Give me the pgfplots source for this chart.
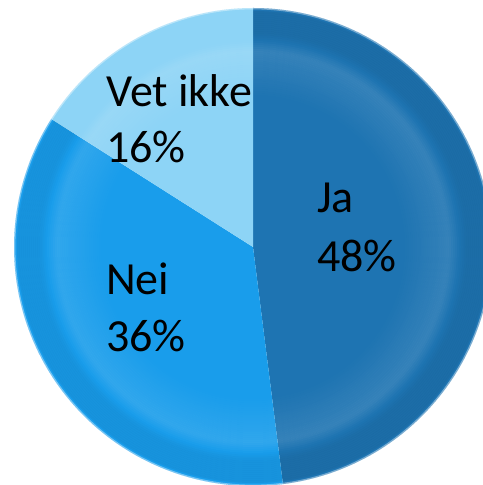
\documentclass[border=0pt]{standalone}
\usepackage{pgfplots}
\pgfplotsset{compat=1.18}
\usepackage{fontspec}
\setmainfont{Carlito}

\definecolor{jacol}{HTML}{1E74B2}
\definecolor{neicol}{HTML}{199DEB}
\definecolor{vetcol}{HTML}{8DD4F6}

% shares in percent
\def\ja{48}
\def\nei{36}
\def\vet{16}

% one thin ring of the bevel shading
\newcommand\ring[3]{%
  \edef\tmp{\noexpand\draw[#1, opacity=#3, line width=2bp] (axis cs:253,238) circle[radius=#2 bp];}\tmp}
% darker rim only over the two darker slices
\newcommand\rim[2]{%
  \edef\tmp{\noexpand\draw[black, opacity=#2, line width=2bp] (axis cs:253,238) ++(\aA:#1 bp)
    arc[start angle=\aA, end angle=\aC, radius=#1 bp];}\tmp}

\begin{document}
\begin{tikzpicture}
\pgfmathsetmacro{\aA}{90}
\pgfmathsetmacro{\aB}{90-\ja*3.6}
\pgfmathsetmacro{\aC}{\aB-\nei*3.6}
\pgfmathsetmacro{\aD}{\aC-\vet*3.6}
\begin{axis}[
    scale only axis,
    width=483bp, height=485bp,
    xmin=0, xmax=483, ymin=0, ymax=485,
    hide axis,
]
\path (rel axis cs:0,0) rectangle (rel axis cs:1,1);

% slices, clockwise from 12 o'clock
\fill[jacol] (axis cs:253,238) -- ++(\aA:239bp) arc[start angle=\aA, end angle=\aB, radius=239bp] -- cycle;
\fill[neicol] (axis cs:253,238) -- ++(\aB:239bp) arc[start angle=\aB, end angle=\aC, radius=239bp] -- cycle;
\fill[vetcol] (axis cs:253,238) -- ++(\aC:239bp) arc[start angle=\aC, end angle=\aD, radius=239bp] -- cycle;

% soft bevel: light band, then darker rim
\foreach \r in {151,153,...,195}{\pgfmathsetmacro\o{0.10*(\r-150)/46}\ring{white}{\r}{\o}}
\foreach \r in {197,199,...,205}{\pgfmathsetmacro\o{0.10*(206-\r)/10}\ring{white}{\r}{\o}}
\foreach \r in {207,209,...,213}{\pgfmathsetmacro\o{0.06*(\r-206)/8}\rim{\r}{\o}}
\foreach \r in {215,217,...,235}{\rim{\r}{0.06}}
\draw[white, opacity=0.4, line width=1.5bp] (axis cs:253,238) circle[radius=238.4bp];

\begin{scope}[every node/.style={anchor=base west, inner sep=0pt, font=\fontsize{46bp}{56bp}\selectfont}]
\node at (axis cs:106,378) {Vet ikke};
\node at (axis cs:106,322) {16\%};
\node at (axis cs:317,272) {Ja};
\node at (axis cs:317,213) {48\%};
\node at (axis cs:106,190) {Nei};
\node at (axis cs:106,133) {36\%};
\end{scope}
\end{axis}
\end{tikzpicture}
\end{document}
